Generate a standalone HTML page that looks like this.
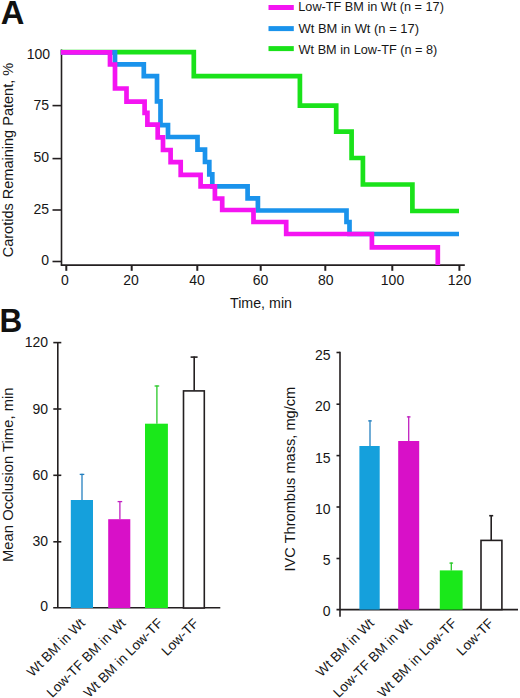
<!DOCTYPE html>
<html><head><meta charset="utf-8">
<style>
html,body{margin:0;padding:0;background:#fff;width:520px;height:698px;overflow:hidden}
svg{display:block}
text{font-family:"Liberation Sans",sans-serif;fill:#161616}
</style></head><body>
<svg width="520" height="698" viewBox="0 0 520 698">
<text transform="translate(0.7,23.8)" font-size="32.7" font-weight="bold" style="fill:#111">A</text>
<text transform="translate(-0.4,331.6) scale(0.95,1)" font-size="33.2" font-weight="bold" style="fill:#111">B</text>
<line x1="61.5" y1="49.5" x2="61.5" y2="265.6" stroke="#231f20" stroke-width="1.6"/>
<line x1="60.8" y1="265.1" x2="464.8" y2="265.1" stroke="#231f20" stroke-width="1.6"/>
<line x1="52.5" y1="105.6" x2="61.5" y2="105.6" stroke="#231f20" stroke-width="1.6"/>
<line x1="52.5" y1="158.6" x2="61.5" y2="158.6" stroke="#231f20" stroke-width="1.6"/>
<line x1="52.5" y1="210" x2="61.5" y2="210" stroke="#231f20" stroke-width="1.6"/>
<line x1="52.5" y1="261.5" x2="61.5" y2="261.5" stroke="#231f20" stroke-width="1.6"/>
<line x1="66.3" y1="265" x2="66.3" y2="270.8" stroke="#231f20" stroke-width="2"/>
<line x1="131.7" y1="265" x2="131.7" y2="270.8" stroke="#231f20" stroke-width="2"/>
<line x1="197.3" y1="265" x2="197.3" y2="270.8" stroke="#231f20" stroke-width="2"/>
<line x1="260.7" y1="265" x2="260.7" y2="270.8" stroke="#231f20" stroke-width="2"/>
<line x1="325.3" y1="265" x2="325.3" y2="270.8" stroke="#231f20" stroke-width="2"/>
<line x1="392.3" y1="265" x2="392.3" y2="270.8" stroke="#231f20" stroke-width="2"/>
<line x1="459.4" y1="265" x2="459.4" y2="270.8" stroke="#231f20" stroke-width="2"/>
<text x="50.0" y="58.8" font-size="14" text-anchor="end">100</text>
<text x="49.0" y="110" font-size="14" text-anchor="end">75</text>
<text x="49.0" y="161.9" font-size="14" text-anchor="end">50</text>
<text x="49.0" y="213.5" font-size="14" text-anchor="end">25</text>
<text x="49.0" y="265.3" font-size="14" text-anchor="end">0</text>
<text x="64.9" y="285.1" font-size="14" text-anchor="middle">0</text>
<text x="131.0" y="285.1" font-size="14" text-anchor="middle">20</text>
<text x="197.0" y="285.1" font-size="14" text-anchor="middle">40</text>
<text x="260.6" y="285.1" font-size="14" text-anchor="middle">60</text>
<text x="325.8" y="285.1" font-size="14" text-anchor="middle">80</text>
<text x="392.5" y="285.1" font-size="14" text-anchor="middle">100</text>
<text x="459.5" y="285.1" font-size="14" text-anchor="middle">120</text>
<text x="230" y="307.5" font-size="14" textLength="62" lengthAdjust="spacingAndGlyphs">Time, min</text>
<text transform="translate(12.9,257.3) rotate(-90)" font-size="14.5" textLength="194.5" lengthAdjust="spacingAndGlyphs">Carotids Remaining Patent, %</text>
<g fill="none" stroke-width="4.7" stroke-linejoin="miter" stroke-linecap="butt">
<path stroke="#1ae21a" d="M60.8 52.2 H193.8 V76.2 H299.9 V105.7 H336.2 V131.7 H351.6 V158 H362.9 V184.5 H412.4 V211 H459"/>
<path stroke="#1a93ec" d="M60.8 52.3 H115 V64.4 H143.8 V76.2 H157 V101.4 H160.5 V125.1 H168 V137 H197.5 V149.6 H205 V162 H209.3 V174.3 H212.3 V186.3 H247.6 V198.4 H257.9 V210.5 H346.5 V222 H349.5 V234 H459"/>
<path stroke="#f414f2" d="M60.8 52.4 H110 V64.5 H115 V88.5 H126.5 V101.6 H144.6 V112.9 H147.4 V124.6 H157.7 V137.3 H163 V150 H170.6 V162.2 H180.7 V174.8 H200.6 V186.4 H214.9 V198.5 H222.2 V210 H253.5 V222 H286.2 V234 H371.9 V247.3 H437.8 V265"/>
</g>
<line x1="268.5" y1="7.5" x2="293.8" y2="7.5" stroke="#f414f2" stroke-width="5"/>
<line x1="268.5" y1="28.6" x2="293.8" y2="28.6" stroke="#1a93ec" stroke-width="5"/>
<line x1="268.5" y1="48.6" x2="293.8" y2="48.6" stroke="#1ae21a" stroke-width="5"/>
<text x="298.3" y="11.2" font-size="12.6" textLength="145.6" lengthAdjust="spacingAndGlyphs">Low-TF BM in Wt (n = 17)</text>
<text x="298.6" y="32.5" font-size="12.6" textLength="120.4" lengthAdjust="spacingAndGlyphs">Wt BM in Wt (n = 17)</text>
<text x="298.6" y="54.1" font-size="12.6" textLength="138.7" lengthAdjust="spacingAndGlyphs">Wt BM in Low-TF (n = 8)</text>
<line x1="57.8" y1="342.6" x2="57.8" y2="608" stroke="#231f20" stroke-width="1.6"/>
<line x1="53.2" y1="607.8" x2="220.3" y2="607.8" stroke="#231f20" stroke-width="1.6"/>
<line x1="53.3" y1="342.6" x2="61.3" y2="342.6" stroke="#231f20" stroke-width="1.6"/>
<line x1="53.3" y1="409" x2="61.3" y2="409" stroke="#231f20" stroke-width="1.6"/>
<line x1="53.3" y1="475.3" x2="61.3" y2="475.3" stroke="#231f20" stroke-width="1.6"/>
<line x1="53.3" y1="541.8" x2="61.3" y2="541.8" stroke="#231f20" stroke-width="1.6"/>
<text x="48.0" y="347.4" font-size="14" text-anchor="end">120</text>
<text x="48.0" y="413.6" font-size="14" text-anchor="end">90</text>
<text x="48.0" y="479.9" font-size="14" text-anchor="end">60</text>
<text x="48.0" y="546.3" font-size="14" text-anchor="end">30</text>
<text x="48.0" y="611.2" font-size="14" text-anchor="end">0</text>
<text transform="translate(12.9,562) rotate(-90)" font-size="14.5" textLength="174.5" lengthAdjust="spacingAndGlyphs">Mean Occlusion Time, min</text>
<rect x="70.8" y="500" width="22.2" height="108.0" fill="#15a0dc"/>
<line x1="82" y1="473.8" x2="82" y2="500" stroke="#2580c0" stroke-width="1.3"/>
<line x1="79.7" y1="474.40000000000003" x2="84.3" y2="474.40000000000003" stroke="#2580c0" stroke-width="1.3"/>
<rect x="108.2" y="519.2" width="22.1" height="88.8" fill="#d810c8"/>
<line x1="119.9" y1="501" x2="119.9" y2="519.2" stroke="#c020c0" stroke-width="1.3"/>
<line x1="117.60000000000001" y1="501.6" x2="122.2" y2="501.6" stroke="#c020c0" stroke-width="1.3"/>
<rect x="145.0" y="423.7" width="22.9" height="184.3" fill="#1ae81a"/>
<line x1="156.9" y1="385.4" x2="156.9" y2="423.7" stroke="#28c828" stroke-width="1.3"/>
<line x1="154.6" y1="386.0" x2="159.20000000000002" y2="386.0" stroke="#28c828" stroke-width="1.3"/>
<rect x="183.5" y="390.9" width="20.8" height="217.1" fill="#fff" stroke="#231f20" stroke-width="1.6"/>
<line x1="194.2" y1="356.6" x2="194.2" y2="390.5" stroke="#231f20" stroke-width="1.6"/>
<line x1="190.6" y1="357.1" x2="197.6" y2="357.1" stroke="#231f20" stroke-width="1.6"/>
<g font-size="13.6" text-anchor="end">
<text transform="translate(86,624) rotate(-45)">Wt BM in Wt</text>
<text transform="translate(126.5,624) rotate(-45)">Low-TF BM in Wt</text>
<text transform="translate(163.5,624) rotate(-45)">Wt BM in Low-TF</text>
<text transform="translate(199.5,624) rotate(-45)">Low-TF</text>
</g>
<line x1="340" y1="351.8" x2="340" y2="616.7" stroke="#231f20" stroke-width="1.6"/>
<line x1="336.5" y1="609.6" x2="518" y2="609.6" stroke="#231f20" stroke-width="1.6"/>
<line x1="336.5" y1="352.5" x2="340" y2="352.5" stroke="#231f20" stroke-width="1.6"/>
<line x1="336.5" y1="404.2" x2="340" y2="404.2" stroke="#231f20" stroke-width="1.6"/>
<line x1="336.5" y1="455.6" x2="340" y2="455.6" stroke="#231f20" stroke-width="1.6"/>
<line x1="336.5" y1="507" x2="340" y2="507" stroke="#231f20" stroke-width="1.6"/>
<line x1="336.5" y1="558.5" x2="340" y2="558.5" stroke="#231f20" stroke-width="1.6"/>
<text x="330.6" y="360" font-size="14" text-anchor="end">25</text>
<text x="330.6" y="411.3" font-size="14" text-anchor="end">20</text>
<text x="330.6" y="462.7" font-size="14" text-anchor="end">15</text>
<text x="330.6" y="514.1" font-size="14" text-anchor="end">10</text>
<text x="330.6" y="564.8" font-size="14" text-anchor="end">5</text>
<text x="330.6" y="615.6" font-size="14" text-anchor="end">0</text>
<text transform="translate(295.2,571.5) rotate(-90)" font-size="14.5" textLength="184.7" lengthAdjust="spacingAndGlyphs">IVC Thrombus mass, mg/cm</text>
<rect x="359.4" y="446" width="20.3" height="163.6" fill="#15a0dc"/>
<line x1="370" y1="420.3" x2="370" y2="446" stroke="#2580c0" stroke-width="1.3"/>
<line x1="368.2" y1="420.90000000000003" x2="371.8" y2="420.90000000000003" stroke="#2580c0" stroke-width="1.3"/>
<rect x="398.2" y="441" width="21.0" height="168.6" fill="#d810c8"/>
<line x1="408.7" y1="416.3" x2="408.7" y2="441" stroke="#c020c0" stroke-width="1.3"/>
<line x1="406.9" y1="416.90000000000003" x2="410.5" y2="416.90000000000003" stroke="#c020c0" stroke-width="1.3"/>
<rect x="439.8" y="570.4" width="22.8" height="39.2" fill="#1ae81a"/>
<line x1="451.3" y1="562.5" x2="451.3" y2="570.4" stroke="#28c828" stroke-width="1.3"/>
<line x1="449.5" y1="563.1" x2="453.1" y2="563.1" stroke="#28c828" stroke-width="1.3"/>
<rect x="481" y="540.4" width="20.9" height="69.2" fill="#fff" stroke="#231f20" stroke-width="1.6"/>
<line x1="491.2" y1="515" x2="491.2" y2="540" stroke="#231f20" stroke-width="1.6"/>
<line x1="489.2" y1="515.7" x2="493.2" y2="515.7" stroke="#231f20" stroke-width="1.6"/>
<g font-size="13.6" text-anchor="end">
<text transform="translate(375,624) rotate(-45)">Wt BM in Wt</text>
<text transform="translate(413,624) rotate(-45)">Low-TF BM in Wt</text>
<text transform="translate(457.5,624) rotate(-45)">Wt BM in Low-TF</text>
<text transform="translate(494.5,624) rotate(-45)">Low-TF</text>
</g>
</svg>
</body></html>
